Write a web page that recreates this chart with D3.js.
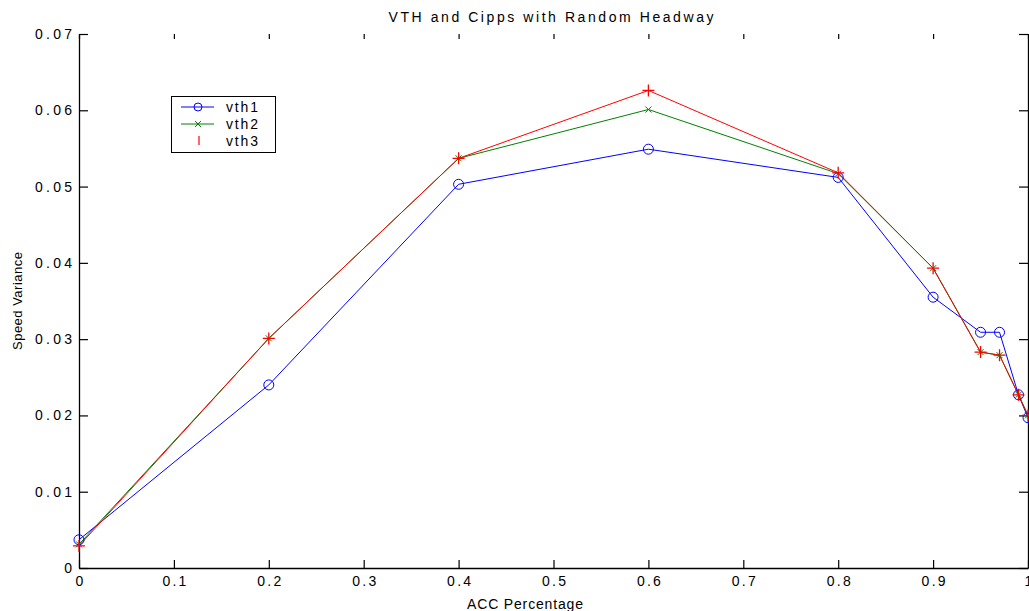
<!DOCTYPE html>
<html><head><meta charset="utf-8">
<script src="https://cdn.jsdelivr.net/npm/d3@7"></script>
<style>body{margin:0;background:#fff}svg{display:block}text{font-family:"Liberation Sans",Arial,sans-serif;fill:#000}</style>
</head><body><svg id="c" width="1029" height="611"></svg>
<script>
const xVals = [0, 0.2, 0.4, 0.6, 0.8, 0.9, 0.95, 0.97, 0.99, 1.0];
const vth1 = [0.0037, 0.0240, 0.0503, 0.0549, 0.0512, 0.0355, 0.0309, 0.0309, 0.0227, 0.0197];
const vth2 = [0.0031, 0.0301, 0.0537, 0.0601, 0.0517, 0.0393, 0.0283, 0.0279, 0.0227, 0.0200];
const vth3 = [0.0029, 0.0301, 0.0537, 0.0626, 0.0518, 0.0393, 0.0283, 0.0279, 0.0227, 0.0200];
const xTicks = [0, 0.1, 0.2, 0.3, 0.4, 0.5, 0.6, 0.7, 0.8, 0.9, 1];
const yTicks = [0, 0.01, 0.02, 0.03, 0.04, 0.05, 0.06, 0.07];
const seriesNames = ["vth1", "vth2", "vth3"];
const seriesColors = ["#0000ff", "#008000", "#ff0000"];

const svg = d3.select("#c");
const x = d3.scaleLinear().domain([0, 1]).range([79, 1028]);
const y = d3.scaleLinear().domain([0, 0.07]).range([568, 34]);
const fmt = d => d === 0 ? "0" : (d === 1 ? "1" : String(d));

// axes
const gBottom = svg.append("g").attr("transform", "translate(0,568)")
  .call(d3.axisBottom(x).tickValues(xTicks).tickSizeInner(-8).tickSizeOuter(0).tickPadding(8).tickFormat(fmt));
const gTop = svg.append("g").attr("transform", "translate(0,34)")
  .call(d3.axisTop(x).tickValues(xTicks).tickSizeInner(-5).tickSizeOuter(0).tickFormat(""));
gTop.select(".domain").remove();
const gLeft = svg.append("g").attr("transform", "translate(79,0)")
  .call(d3.axisLeft(y).tickValues(yTicks).tickSizeInner(-9).tickSizeOuter(0).tickPadding(7).tickFormat(fmt));
const gRight = svg.append("g").attr("transform", "translate(1028,0)")
  .call(d3.axisRight(y).tickValues(yTicks).tickSizeInner(-9).tickSizeOuter(0).tickFormat(""));
svg.selectAll(".domain").attr("stroke", "#000").attr("stroke-width", 1.3);
svg.selectAll(".tick line").attr("stroke", "#000").attr("stroke-width", 1.2);
svg.selectAll(".tick text").attr("font-size", 14).attr("font-family", "Liberation Sans, Arial, sans-serif");
gBottom.selectAll(".tick text").each(function(d) {
  if (d !== 0 && d !== 1) d3.select(this).attr("textLength", 24).attr("lengthAdjust", "spacing");
});
gLeft.selectAll(".tick text").each(function(d) {
  if (d !== 0) d3.select(this).attr("textLength", 37).attr("lengthAdjust", "spacing");
});

// titles
svg.append("text").attr("x", 551).attr("y", 22).attr("text-anchor", "middle").attr("font-size", 14)
  .attr("textLength", 325).attr("lengthAdjust", "spacing").text("VTH and Cipps with Random Headway");
svg.append("text").attr("x", 525).attr("y", 609).attr("text-anchor", "middle").attr("font-size", 14)
  .attr("textLength", 116).attr("lengthAdjust", "spacing").text("ACC Percentage");
svg.append("text").attr("transform", "translate(22,301) rotate(-90)").attr("text-anchor", "middle").attr("font-size", 13)
  .attr("textLength", 98).attr("lengthAdjust", "spacing").text("Speed Variance");

const data = [vth1, vth2, vth3];
const line = d3.line().x((d, i) => x(xVals[i])).y(d => y(d));
data.forEach((s, k) => {
  svg.append("path").datum(s).attr("d", line).attr("fill", "none")
    .attr("stroke", seriesColors[k]).attr("stroke-width", 1);
});

function marker(g, k, cx, cy) {
  const c = seriesColors[k];
  if (k === 0) {
    g.append("circle").attr("cx", cx).attr("cy", cy).attr("r", 5).attr("fill", "none").attr("stroke", c).attr("stroke-width", 1);
  } else if (k === 1) {
    const s = 3;
    g.append("path").attr("d", `M${cx-s},${cy-s}L${cx+s},${cy+s}M${cx-s},${cy+s}L${cx+s},${cy-s}`).attr("stroke", c).attr("stroke-width", 1);
  } else {
    const s = 6;
    g.append("path").attr("d", `M${cx-s},${cy}L${cx+s},${cy}M${cx},${cy-s}L${cx},${cy+s}`).attr("stroke", c).attr("stroke-width", 1.3);
  }
}
const mg = svg.append("g");
data.forEach((s, k) => {
  s.forEach((v, i) => marker(mg, k, x(xVals[i]), y(v)));
});

// legend
const lg = svg.append("g");
lg.append("rect").attr("x", 171.5).attr("y", 96.5).attr("width", 104).attr("height", 56).attr("fill", "#fff").attr("stroke", "#000").attr("stroke-width", 1);
seriesNames.forEach((n, k) => {
  const yy = 107 + k * 17;
  if (k < 2) {
    lg.append("line").attr("x1", 181).attr("x2", 214).attr("y1", yy).attr("y2", yy).attr("stroke", seriesColors[k]).attr("stroke-width", 1);
    if (k === 0) lg.append("circle").attr("cx", 198).attr("cy", yy).attr("r", 4).attr("fill", "none").attr("stroke", seriesColors[k]);
    else marker(lg, 1, 198, yy);
  } else {
    lg.append("line").attr("x1", 199).attr("x2", 199).attr("y1", yy - 5).attr("y2", yy + 4).attr("stroke", seriesColors[k]).attr("stroke-width", 1.2);
  }
  lg.append("text").attr("x", 226).attr("y", yy + 5).attr("font-size", 14)
    .attr("textLength", 32).attr("lengthAdjust", "spacing").text(n);
});
</script></body></html>
